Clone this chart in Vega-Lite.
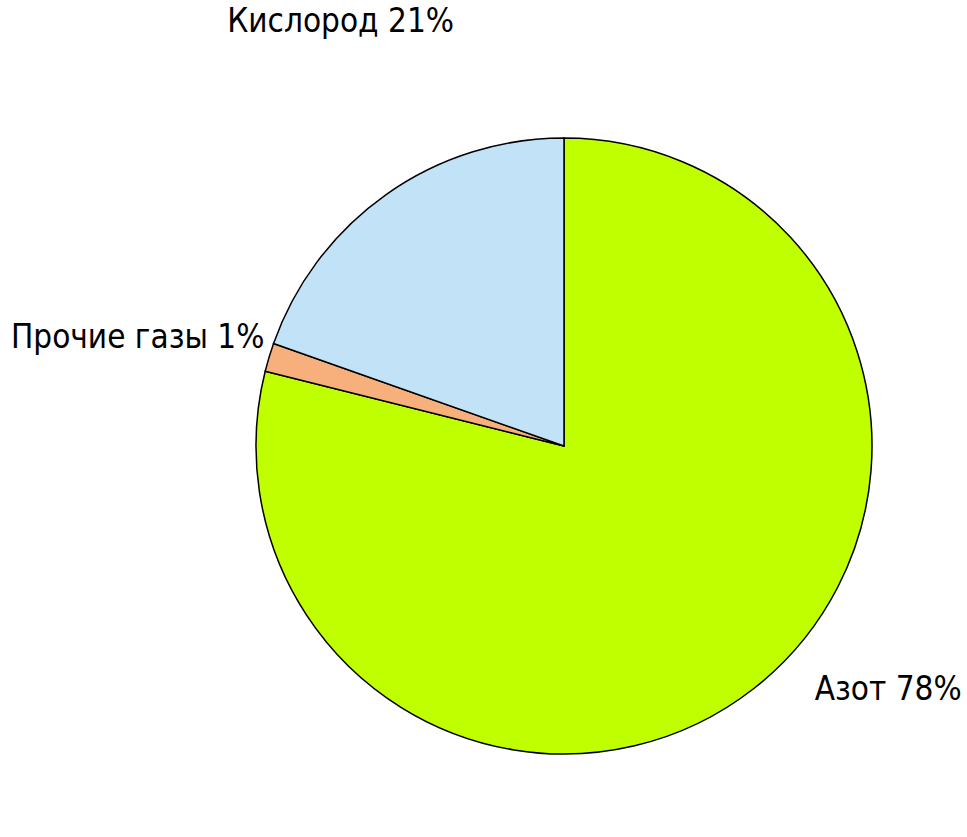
{
  "$schema": "https://vega.github.io/schema/vega-lite/v6.json",
  "width": 800,
  "height": 780,
  "autosize": {"type": "none"},
  "padding": {"left": 164, "top": 56, "right": 3, "bottom": 1},
  "background": "white",
  "config": {"view": {"stroke": null}},
  "data": {
    "values": [
      {"gas": "Азот", "label": "Азот 78%", "value": 78.9, "order": 1},
      {"gas": "Прочие газы", "label": "Прочие газы 1%", "value": 1.5, "order": 2},
      {"gas": "Кислород", "label": "Кислород 21%", "value": 19.6, "order": 3}
    ]
  },
  "transform": [
    {"stack": "value", "groupby": [], "sort": [{"field": "order"}], "as": ["v0", "v1"]},
    {"calculate": "(datum.v0 + datum.v1) / 2", "as": "mid"}
  ],
  "layer": [
    {
      "mark": {"type": "arc", "outerRadius": 308, "stroke": "#000000", "strokeWidth": 1.5},
      "encoding": {
        "theta": {"field": "v0", "type": "quantitative", "scale": {"domain": [0, 100]}},
        "theta2": {"field": "v1"},
        "color": {
          "field": "gas",
          "type": "nominal",
          "scale": {"domain": ["Азот", "Прочие газы", "Кислород"], "range": ["#BFFF00", "#F7B07C", "#C2E2F8"]},
          "legend": null
        }
      }
    },
    {
      "transform": [{"filter": "datum.gas === 'Кислород'"}],
      "mark": {"type": "text", "radius": 340, "align": "center", "baseline": "middle", "dx": -27, "dy": -146, "fontSize": 33, "font": "DejaVu Sans Condensed", "fill": "#000000"},
      "encoding": {"theta": {"field": "mid", "type": "quantitative"}, "text": {"field": "label"}}
    },
    {
      "transform": [{"filter": "datum.gas === 'Прочие газы'"}],
      "mark": {"type": "text", "radius": 340, "align": "right", "baseline": "middle", "dx": 26, "dy": -10, "fontSize": 33, "font": "DejaVu Sans Condensed", "fill": "#000000"},
      "encoding": {"theta": {"field": "mid", "type": "quantitative"}, "text": {"field": "label"}}
    },
    {
      "transform": [{"filter": "datum.gas === 'Азот'"}],
      "mark": {"type": "text", "radius": 340, "align": "center", "baseline": "middle", "dx": 115, "dy": -24, "fontSize": 33, "font": "DejaVu Sans Condensed", "fill": "#000000"},
      "encoding": {"theta": {"field": "mid", "type": "quantitative"}, "text": {"field": "label"}}
    }
  ]
}
